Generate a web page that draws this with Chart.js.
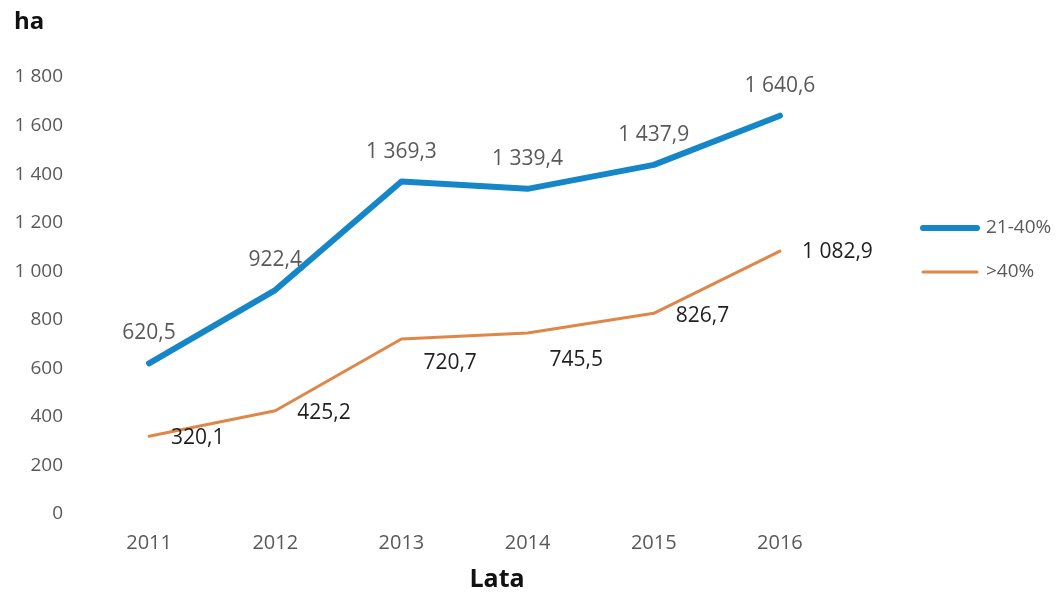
<!DOCTYPE html>
<html>
<head>
<meta charset="utf-8">
<script src="https://cdn.jsdelivr.net/npm/chart.js@4/dist/chart.umd.min.js"></script>
<style>
  html, body { margin: 0; padding: 0; background: #ffffff; }
  #wrap { width: 1061px; height: 594px; position: relative; }
</style>
</head>
<body>
<div id="wrap"><canvas id="c" width="1061" height="594"></canvas></div>
<script>
// ---- data ----
const years = ['2011', '2012', '2013', '2014', '2015', '2016'];
const series2140 = [620.5, 922.4, 1369.3, 1339.4, 1437.9, 1640.6];
const seriesOver40 = [320.1, 425.2, 720.7, 745.5, 826.7, 1082.9];
const seriesNames = ['21-40%', '>40%'];
const yTicks = [0, 200, 400, 600, 800, 1000, 1200, 1400, 1600, 1800];

// ---- styles ----
const BLUE = '#1586c8';
const ORANGE = '#de8749';
const FONT = '"Open Sans", "Noto Sans", sans-serif';
// vertical nudges of the orange value labels (style only)
const orangeLabelDy = [2, 2, 24, 27, 3, 1];

function fmt(v, dec) {
  const s = dec ? Number(v).toFixed(1) : String(Math.round(v));
  let [i, d] = s.split('.');
  i = i.replace(/\B(?=(\d{3})+(?!\d))/g, ' ');
  return d !== undefined ? i + ',' + d : i;
}

const decorPlugin = {
  id: 'decor',
  afterDatasetsDraw(chart) {
    const ctx = chart.ctx;
    ctx.save();
    // value labels
    const m0 = chart.getDatasetMeta(0);
    ctx.font = '21px ' + FONT;
    ctx.fillStyle = '#595959';
    ctx.textAlign = 'center';
    ctx.textBaseline = 'middle';
    m0.data.forEach((pt, i) => {
      ctx.fillText(fmt(series2140[i], true), pt.x, pt.y - 30);
    });
    const m1 = chart.getDatasetMeta(1);
    ctx.fillStyle = '#1f1f1f';
    ctx.textAlign = 'left';
    m1.data.forEach((pt, i) => {
      ctx.fillText(fmt(seriesOver40[i], true), pt.x + 22, pt.y + orangeLabelDy[i]);
    });
    // axis titles
    ctx.fillStyle = '#111';
    ctx.font = 'bold 24px ' + FONT;
    ctx.textAlign = 'left';
    ctx.fillText('ha', 14, 22);
    ctx.font = 'bold 25px ' + FONT;
    ctx.textAlign = 'center';
    ctx.fillText('Lata', 497, 580);
    // legend
    const items = [
      { name: seriesNames[0], color: BLUE, w: 6, y: 228 },
      { name: seriesNames[1], color: ORANGE, w: 3, y: 272 }
    ];
    ctx.font = '19px ' + FONT;
    ctx.textAlign = 'left';
    ctx.fillStyle = '#595959';
    items.forEach(it => {
      ctx.beginPath();
      ctx.strokeStyle = it.color;
      ctx.lineWidth = it.w;
      ctx.lineCap = 'round';
      ctx.moveTo(923, it.y);
      ctx.lineTo(977, it.y);
      ctx.stroke();
      ctx.fillText(it.name, 986, it.y);
    });
    ctx.restore();
  }
};

new Chart(document.getElementById('c'), {
  type: 'line',
  data: {
    labels: years,
    datasets: [
      { label: seriesNames[0], data: series2140, borderColor: BLUE, backgroundColor: BLUE,
        borderWidth: 6, pointRadius: 0, tension: 0, borderJoinStyle: 'round', borderCapStyle: 'round' },
      { label: seriesNames[1], data: seriesOver40, borderColor: ORANGE, backgroundColor: ORANGE,
        borderWidth: 3, pointRadius: 0, tension: 0, borderJoinStyle: 'round', borderCapStyle: 'round' }
    ]
  },
  options: {
    responsive: false,
    animation: false,
    layout: { padding: { left: 0, right: 218, top: 77, bottom: 0 } },
    plugins: { legend: { display: false }, tooltip: { enabled: false }, title: { display: false } },
    scales: {
      x: {
        offset: true,
        grid: { display: false, drawTicks: false },
        border: { display: false },
        ticks: { color: '#595959', font: { family: FONT, size: 20 }, padding: 17, maxRotation: 0 },
        afterFit(s) { s.height = 80; }
      },
      y: {
        min: 0, max: 1800,
        afterBuildTicks(s) { s.ticks = yTicks.map(v => ({ value: v })); },
        grid: { display: false, drawTicks: false },
        border: { display: false },
        ticks: { color: '#595959', font: { family: FONT, size: 19 }, padding: 23,
                 callback: v => fmt(v, false) },
        afterFit(s) { s.width = 86; }
      }
    }
  },
  plugins: [decorPlugin]
});
</script>
</body>
</html>
